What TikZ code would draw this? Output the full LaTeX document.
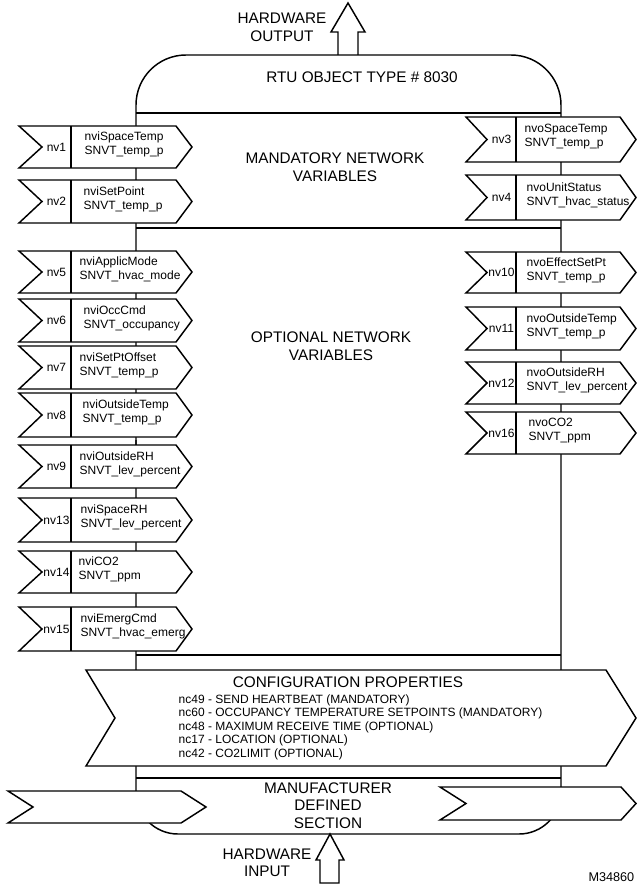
\documentclass[tikz,border=0pt]{standalone}
\usepackage{fontspec}
\setmainfont{Liberation Sans}
\newcommand\InVar[7]{%
  \draw[nvbox] (19,#2) -- (176,#2) -- (192,{(#2+#3)/2}) -- (176,#3) -- (19,#3) -- (42,{(#2+#3)/2}) -- cycle;
  \draw (71,#2) -- (71,#3);
  \node[small] (#1n) at (56.5,{(#2+#3)/2}) {#4};
  \node[small, anchor=west] (#1t) at (#7,{(#2+#3)/2-2.5}) {#5\\#6};
}
\newcommand\OutVar[7]{%
  \draw[nvbox] (466,#2) -- (620,#2) -- (636,{(#2+#3)/2}) -- (620,#3) -- (466,#3) -- (487,{(#2+#3)/2}) -- cycle;
  \draw (516,#2) -- (516,#3);
  \node[small] (#1n) at (501.5,{(#2+#3)/2}) {#4};
  \node[small, anchor=west] (#1t) at (#7,{(#2+#3)/2-2.5}) {#5\\#6};
}
\begin{document}
\begin{tikzpicture}[x=0.75pt, y=-0.75pt, line width=1.1pt,
  big/.style={font=\fontsize{11.5}{13.1}\selectfont, align=center, inner sep=0pt},
  small/.style={font=\fontsize{9}{10.5}\selectfont, align=left, inner sep=0pt},
  cfgtext/.style={font=\fontsize{9}{10.1}\selectfont, align=left, inner sep=0pt},
  nvbox/.style={draw, fill=white}]
\path[use as bounding box] (0,0) rectangle (637,888);

% object body
\draw[rounded corners=37.5pt] (136,450) |- (348,55) -| (561,450);
\draw[rounded corners=31.5pt] (136,440) |- (348,834) -| (561,440);
\draw (136,113) -- (561,113);
\draw (136,228) -- (561,228);
\draw (136,655) -- (561,655);
\draw (136,778) -- (561,778);

% hardware output arrow
\draw (338,55) -- (338,32) -- (331,32) -- (348,3) -- (365,32) -- (358,32) -- (358,55);
\node[big] (hwout) at (282,27.5) {HARDWARE\\OUTPUT};

\node[big] (rtu) at (362,77) {RTU OBJECT TYPE \# 8030};
\node[big] (mand) at (335,167) {MANDATORY NETWORK\\VARIABLES};
\node[big] (opt) at (331,346) {OPTIONAL NETWORK\\VARIABLES};

% input network variables
\InVar{v1}{126}{168}{nv1}{nviSpaceTemp}{SNVT\_temp\_p}{84}
\InVar{v2}{180}{223}{nv2}{nviSetPoint}{SNVT\_temp\_p}{83}
\InVar{v5}{251}{293}{nv5}{nviApplicMode}{SNVT\_hvac\_mode}{79}
\InVar{v6}{299}{342}{nv6}{nviOccCmd}{SNVT\_occupancy}{83}
\InVar{v7}{346}{389}{nv7}{nviSetPtOffset}{SNVT\_temp\_p}{79}
\InVar{v8}{393}{437}{nv8}{nviOutsideTemp}{SNVT\_temp\_p}{82}
\InVar{v9}{445}{488}{nv9}{nviOutsideRH}{SNVT\_lev\_percent}{79}
\InVar{v13}{498}{542}{nv13}{nviSpaceRH}{SNVT\_lev\_percent}{80}
\InVar{v14}{551}{593}{nv14}{nviCO2}{SNVT\_ppm}{78}
\InVar{v15}{607}{651}{nv15}{nviEmergCmd}{SNVT\_hvac\_emerg}{80}

% output network variables
\OutVar{v3}{117}{162}{nv3}{nvoSpaceTemp}{SNVT\_temp\_p}{524}
\OutVar{v4}{175}{220}{nv4}{nvoUnitStatus}{SNVT\_hvac\_status}{526}
\OutVar{v10}{252}{293}{nv10}{nvoEffectSetPt}{SNVT\_temp\_p}{526}
\OutVar{v11}{307}{350}{nv11}{nvoOutsideTemp}{SNVT\_temp\_p}{526}
\OutVar{v12}{362}{404}{nv12}{nvoOutsideRH}{SNVT\_lev\_percent}{526}
\OutVar{v16}{412}{454}{nv16}{nvoCO2}{SNVT\_ppm}{528}

% configuration properties
\draw[nvbox] (86,670) -- (606,670) -- (636,718) -- (606,766) -- (86,766) -- (115,718) -- cycle;
\node[big] (cfg) at (348,682) {CONFIGURATION PROPERTIES};
\node[cfgtext, anchor=north west] (cfgl) at (178,694) {nc49 - SEND HEARTBEAT (MANDATORY)\\
nc60 - OCCUPANCY TEMPERATURE SETPOINTS (MANDATORY)\\
nc48 - MAXIMUM RECEIVE TIME (OPTIONAL)\\
nc17 - LOCATION (OPTIONAL)\\
nc42 - CO2LIMIT (OPTIONAL)};

% manufacturer defined section
\draw[nvbox] (8,791) -- (181,791) -- (206,807) -- (181,823) -- (8,823) -- (33,807) -- cycle;
\draw[nvbox] (440,787) -- (621,787) -- (636,803.5) -- (621,820) -- (440,820) -- (466,803.5) -- cycle;
\node[big, font=\fontsize{11.5}{13.2}\selectfont] (mfr) at (328,805.5) {MANUFACTURER\\DEFINED\\SECTION};

% hardware input arrow
\draw[fill=white] (330,834) -- (344,860) -- (339,860) -- (339,883) -- (320,883) -- (320,860) -- (316,860) -- cycle;
\node[big] (hwin) at (267,863) {HARDWARE\\INPUT};

\node[font=\fontsize{9.5}{11}\selectfont, inner sep=0pt, anchor=east] (mref) at (635,877) {M34860};
\end{tikzpicture}
\end{document}
